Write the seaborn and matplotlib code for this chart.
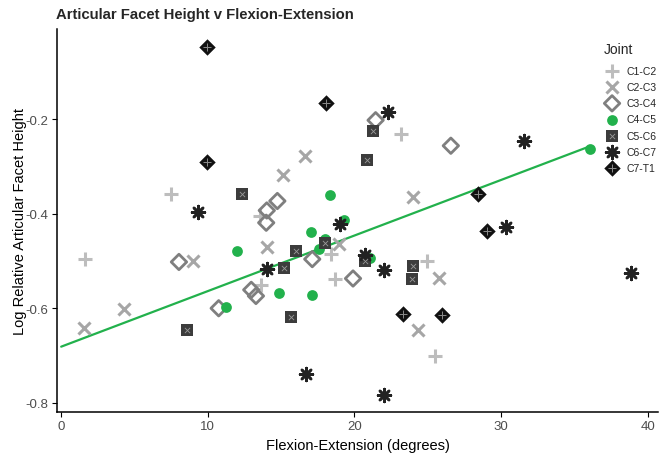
import numpy as np
import pandas as pd
import matplotlib
matplotlib.use("Agg")
import matplotlib.pyplot as plt
import seaborn as sns
from matplotlib.legend_handler import HandlerTuple

# ---------------- data ----------------
joints = ["C1-C2", "C2-C3", "C3-C4", "C4-C5", "C5-C6", "C6-C7", "C7-T1"]

c1c2_x = [1.65, 7.46, 13.57, 13.62, 18.37, 18.66, 23.18, 24.95, 25.49]
c1c2_y = [-0.496, -0.358, -0.404, -0.551, -0.486, -0.538, -0.232, -0.500, -0.702]

c2c3_x = [1.58, 4.25, 8.98, 14.02, 15.15, 16.64, 18.95, 24.02, 25.78, 24.31]
c2c3_y = [-0.642, -0.601, -0.500, -0.470, -0.319, -0.277, -0.463, -0.365, -0.535, -0.646]

c3c4_x = [8.03, 10.74, 12.96, 13.28, 13.98, 14.02, 14.74, 17.12, 19.90, 21.44, 26.57]
c3c4_y = [-0.502, -0.600, -0.561, -0.574, -0.419, -0.393, -0.373, -0.496, -0.537, -0.202, -0.256]

c4c5_x = [11.26, 11.99, 14.86, 17.01, 17.10, 17.55, 18.00, 18.32, 19.27, 21.03, 36.04]
c4c5_y = [-0.598, -0.479, -0.568, -0.439, -0.571, -0.474, -0.453, -0.361, -0.414, -0.493, -0.263]

c5c6_x = [8.55, 12.33, 15.22, 15.67, 15.99, 18.00, 20.74, 20.83, 21.26, 24.02, 23.93]
c5c6_y = [-0.646, -0.359, -0.515, -0.618, -0.478, -0.461, -0.500, -0.286, -0.225, -0.511, -0.538]

c6c7_x = [9.36, 14.04, 16.69, 19.00, 20.69, 22.00, 22.00, 22.27, 30.33, 31.55, 38.85]
c6c7_y = [-0.396, -0.517, -0.739, -0.421, -0.487, -0.520, -0.783, -0.185, -0.429, -0.246, -0.526]

c7t1_x = [9.95, 9.95, 18.03, 23.29, 25.96, 28.45, 29.06]
c7t1_y = [-0.046, -0.291, -0.165, -0.613, -0.615, -0.358, -0.437]

x_ticks = [0, 10, 20, 30, 40]
y_ticks = [-0.2, -0.4, -0.6, -0.8]

title = "Articular Facet Height v Flexion-Extension"
x_label = "Flexion-Extension (degrees)"
y_label = "Log Relative Articular Facet Height"
fit_group = "C4-C5"

# ---------------- assemble ----------------
xs = [c1c2_x, c2c3_x, c3c4_x, c4c5_x, c5c6_x, c6c7_x, c7t1_x]
ys = [c1c2_y, c2c3_y, c3c4_y, c4c5_y, c5c6_y, c6c7_y, c7t1_y]
df = pd.concat([pd.DataFrame({"x": x, "y": y, "Joint": j}) for j, x, y in zip(joints, xs, ys)],
               ignore_index=True)

sns.set_theme(style="ticks")
plt.rcParams["font.family"] = ["Liberation Sans", "DejaVu Sans"]

fig = plt.figure(figsize=(6.71, 4.56), dpi=100)
ax = fig.add_axes([0.085, 0.094, 0.896, 0.84])

green = "#22b14c"
styles = {
    "C1-C2": dict(marker="+", color="#bdbdbd", s=110, linewidth=2.2),
    "C2-C3": dict(marker="x", color="#a6a6a6", s=75, linewidth=2.2),
    "C3-C4": dict(marker="D", facecolor="none", edgecolor="#7f7f7f", s=62, linewidth=2.0),
    "C4-C5": dict(marker="o", color=green, s=60, linewidth=0),
    "C5-C6": dict(marker="s", color="#3c3c3c", s=72, linewidth=0),
    "C6-C7": dict(marker=(8, 2, 0), color="#222222", s=85, linewidth=1.9),
    "C7-T1": dict(marker="D", color="#111111", s=70, linewidth=0),
}
overlays = {
    "C5-C6": dict(marker="x", color="#9a9a9a", s=14, linewidth=0.6),
    "C7-T1": dict(marker="+", color="#8a8a8a", s=30, linewidth=0.7),
}

handles = []
for j in joints:
    sub = df[df["Joint"] == j]
    st = styles[j]
    sns.scatterplot(data=sub, x="x", y="y", ax=ax, legend=False, zorder=3, **st)
    h = [ax.scatter([], [], **st)]
    if j in overlays:
        sns.scatterplot(data=sub, x="x", y="y", ax=ax, legend=False, zorder=4, **overlays[j])
        h.append(ax.scatter([], [], **overlays[j]))
    handles.append(tuple(h))

# linear fit for C4-C5
fit = df[df["Joint"] == fit_group]
slope, intercept = np.polyfit(fit["x"], fit["y"], 1)
xl = np.array([0, fit["x"].max()])
ax.plot(xl, intercept + slope * xl, color=green, lw=1.6, zorder=2)

# limits with 5% expansion (as ggplot)
xr = df["x"].max() - df["x"].min()
yr = df["y"].max() - df["y"].min()
ax.set_xlim(df["x"].min() - 0.05 * xr, df["x"].max() + 0.05 * xr)
ax.set_ylim(df["y"].min() - 0.05 * yr, df["y"].max() + 0.05 * yr)

ax.set_xticks(x_ticks)
ax.set_yticks(y_ticks)
ax.set_yticklabels([f"{v:.1f}" for v in y_ticks])
ax.tick_params(axis="both", labelsize=9.5, labelcolor="#4d4d4d", color="black",
               length=3.5, width=0.8, direction="out", pad=2.5)
for s in ["top", "right"]:
    ax.spines[s].set_visible(False)
for s in ["left", "bottom"]:
    ax.spines[s].set_color("black")
    ax.spines[s].set_linewidth(1.1)

ax.set_xlabel(x_label, fontsize=10.5, color="black")
ax.set_ylabel(y_label, fontsize=10.5, color="black")
ax.yaxis.set_label_coords(-0.05, 0.5)
ax.set_title(title, fontsize=10.7, fontweight="bold", loc="left", x=-0.001, pad=8)

leg = ax.legend(handles, joints, handler_map={tuple: HandlerTuple(ndivide=1)},
                title="Joint", loc="upper left", bbox_to_anchor=(0.9005, 0.906),
                bbox_transform=fig.transFigure, frameon=False, fontsize=7.5,
                title_fontsize=10, labelspacing=0.6, handletextpad=0.6,
                handlelength=1.5, borderaxespad=0, borderpad=0)
leg._legend_box.align = "left"
leg._legend_box.sep = 7

fig.savefig("out.png", dpi=100)
